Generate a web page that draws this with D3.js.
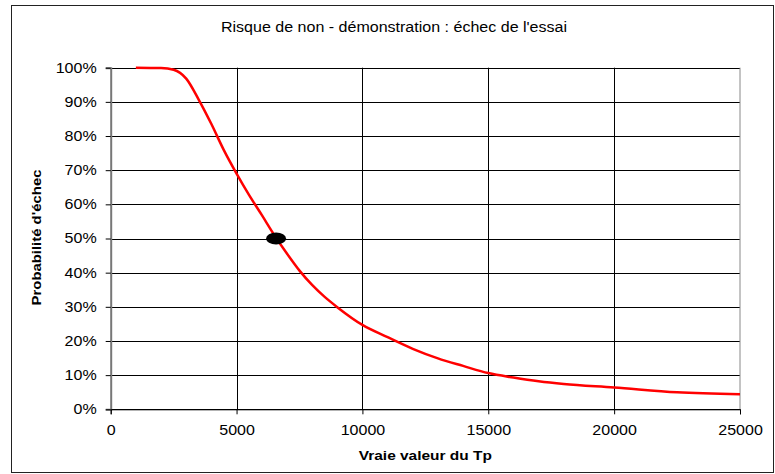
<!DOCTYPE html>
<html>
<head>
<meta charset="utf-8">
<script src="https://cdn.jsdelivr.net/npm/d3@7"></script>
<style>
  body { margin: 0; background: #fff; }
  text { font-family: "Liberation Sans", Arial, sans-serif; }
</style>
</head>
<body>
<svg id="chart" width="775" height="474"></svg>
<script>
// valeurs
const tp = [1000, 2000, 2500, 3000, 3500, 4000, 4500, 5000, 5500, 6000, 6500, 7000, 7500, 8000,
    8500, 9000, 10000, 11000, 12000, 13000, 14000, 15000, 16000, 17000, 18000, 20000, 22500, 25000];
const probEchec = [1.000, 0.999, 0.994, 0.968, 0.906, 0.835, 0.758, 0.690, 0.627, 0.569, 0.510,
    0.456, 0.406, 0.364, 0.329, 0.299, 0.247, 0.211, 0.177, 0.149, 0.127, 0.106, 0.093, 0.082,
    0.074, 0.064, 0.050, 0.044];
const pointX = [6570];
const pointY = [0.50];
const xTicks = [0, 5000, 10000, 15000, 20000, 25000];
const yTicks = [0, 0.1, 0.2, 0.3, 0.4, 0.5, 0.6, 0.7, 0.8, 0.9, 1.0];

const stretch = 1.145; // le texte Excel est un peu plus large

const svg = d3.select("#chart");
const margin = {left: 110.7, right: 740, top: 67.7, bottom: 409.3};

function widen(sel) {
    sel.each(function() {
        const w = this.getComputedTextLength();
        d3.select(this).attr("textLength", w * stretch).attr("lengthAdjust", "spacingAndGlyphs");
    });
}

// cadre du graphique
svg.append("rect")
    .attr("x", 11.5).attr("y", 5.5)
    .attr("width", 762).attr("height", 467)
    .style("fill", "white").style("stroke", "#222").style("stroke-width", 1);

const x = d3.scaleLinear().domain([0, 25000]).range([margin.left, margin.right]);
const y = d3.scaleLinear().domain([0, 1]).range([margin.bottom, margin.top]);

// grille
svg.append("g").selectAll("line").data(yTicks).join("line")
    .attr("x1", margin.left).attr("x2", margin.right)
    .attr("y1", d => Math.round(y(d)) + 0.5).attr("y2", d => Math.round(y(d)) + 0.5)
    .style("stroke", "#000").style("stroke-width", 1);
svg.append("g").selectAll("line").data(xTicks.slice(1, -1)).join("line")
    .attr("x1", d => Math.round(x(d)) + 0.5).attr("x2", d => Math.round(x(d)) + 0.5)
    .attr("y1", margin.top).attr("y2", margin.bottom)
    .style("stroke", "#000").style("stroke-width", 1);
// bord droit
svg.append("line")
    .attr("x1", margin.right).attr("x2", margin.right)
    .attr("y1", margin.top).attr("y2", margin.bottom)
    .style("stroke", "#888").style("stroke-width", 1);

// axes
const yAxis = svg.append("g")
    .attr("transform", `translate(${margin.left},0)`)
    .call(d3.axisLeft(y).tickValues(yTicks).tickFormat(d3.format(".0%")).tickSize(5).tickPadding(9));
const xAxis = svg.append("g")
    .attr("transform", `translate(0,${margin.bottom})`)
    .call(d3.axisBottom(x).tickValues(xTicks).tickFormat(d => d).tickSize(5).tickPadding(11));
[xAxis, yAxis].forEach(a => {
    a.selectAll("text").style("font-size", "14px").style("fill", "#000")
        .style("font-family", "'Liberation Sans', Arial, sans-serif")
        .call(widen);
    a.selectAll(".tick line").style("stroke", "#000");
});
yAxis.select(".domain").style("stroke", "#777").style("stroke-width", 2);
xAxis.select(".domain").style("stroke", "#000");

// courbe
const line = d3.line()
    .x((d, i) => x(tp[i]))
    .y(d => y(d))
    .curve(d3.curveMonotoneX);
svg.append("path")
    .datum(probEchec)
    .attr("d", line)
    .style("fill", "none")
    .style("stroke", "#ff0000")
    .style("stroke-width", 2.5);

// point 50 %
svg.selectAll(".pt").data(pointX).join("ellipse")
    .attr("class", "pt")
    .attr("cx", d => x(d)).attr("cy", (d, i) => y(pointY[i]))
    .attr("rx", 10).attr("ry", 6)
    .style("fill", "#000");

// titres
svg.append("text")
    .attr("x", 394).attr("y", 32)
    .attr("text-anchor", "middle")
    .style("font-size", "14px")
    .text("Risque de non - démonstration : échec de l'essai")
    .call(widen);
svg.append("text")
    .attr("x", (margin.left + margin.right) / 2).attr("y", 460)
    .attr("text-anchor", "middle")
    .style("font-size", "13.5px").style("font-weight", "bold")
    .text("Vraie valeur du Tp")
    .call(widen);
svg.append("text")
    .attr("transform", `translate(41,${(margin.top + margin.bottom) / 2 - 1}) rotate(-90)`)
    .attr("text-anchor", "middle")
    .style("font-size", "13px").style("font-weight", "bold")
    .text("Probabilité d'échec")
    .call(widen);
</script>
</body>
</html>
